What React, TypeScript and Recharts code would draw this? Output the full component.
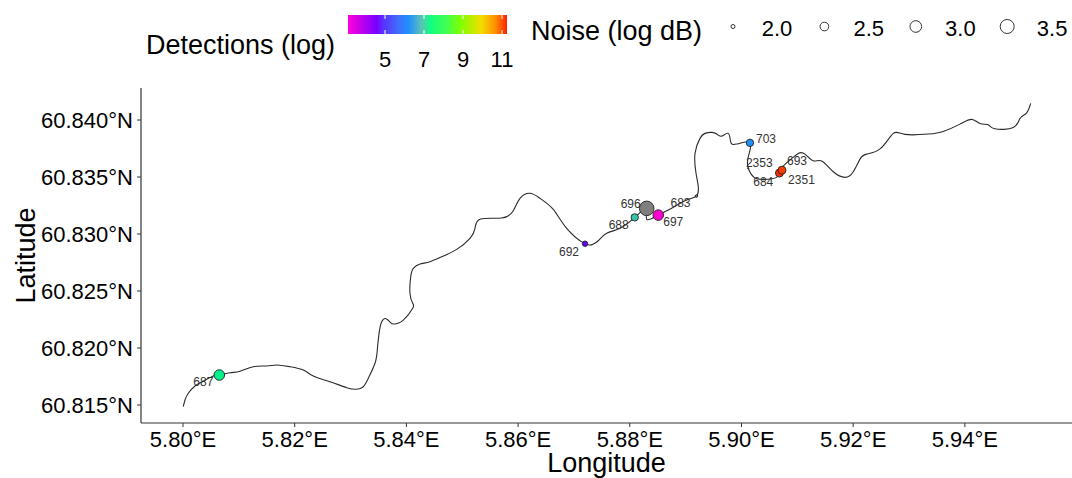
import { ScatterChart, Scatter, XAxis, YAxis, LabelList } from 'recharts'

const FONT = '"Liberation Sans", Arial, sans-serif'

// river course
const riverLon = [
  5.80005, 5.80036, 5.80095, 5.80215, 5.80363, 5.80543, 5.8065, 5.80842, 5.81021, 5.81259, 5.81499, 5.81678,
  5.81916, 5.82154, 5.82333, 5.82632, 5.82931, 5.8311, 5.83228, 5.83318, 5.83438, 5.83479, 5.83515, 5.83558,
  5.83626, 5.83706, 5.83778, 5.83945, 5.84113, 5.84113, 5.84064, 5.84077, 5.84124, 5.84243, 5.84423, 5.84661,
  5.84901, 5.85139, 5.85228, 5.8533, 5.85706, 5.85914, 5.86034, 5.86213, 5.86392, 5.8663, 5.8687, 5.87198,
  5.87347, 5.87436, 5.87586, 5.87825, 5.88088, 5.88303, 5.88303, 5.8851, 5.88689, 5.89019, 5.89194, 5.89227,
  5.89185, 5.89168, 5.89257, 5.89346, 5.89466, 5.89556, 5.89645, 5.89764, 5.89807, 5.89914, 5.90152, 5.90122,
  5.90122, 5.90224, 5.9039, 5.9063, 5.90689, 5.90868, 5.91017, 5.91137, 5.91286, 5.91436, 5.91644, 5.91853,
  5.92002, 5.92122, 5.92242, 5.92492, 5.92718, 5.92927, 5.93345, 5.93613, 5.93912, 5.94122, 5.9427, 5.94419,
  5.94539, 5.94867, 5.94987, 5.95106, 5.95178,
]
const riverLat = [
  60.81485, 60.81544, 60.81603, 60.81667, 60.8171, 60.81754, 60.81763, 60.81783, 60.81796, 60.81836, 60.81842, 60.81851,
  60.81836, 60.81807, 60.81754, 60.81704, 60.81652, 60.81638, 60.8166, 60.81734, 60.81866, 60.81982, 60.82143, 60.82231,
  60.82259, 60.82228, 60.8221, 60.82245, 60.82348, 60.82392, 60.8248, 60.82625, 60.82699, 60.82737, 60.82757, 60.82807,
  60.82865, 60.82962, 60.8305, 60.83131, 60.8314, 60.83204, 60.83313, 60.83357, 60.83313, 60.83216, 60.8305, 60.82915,
  60.82912, 60.82941, 60.83006, 60.8305, 60.83146, 60.83225, 60.83129, 60.83166, 60.8321, 60.83298, 60.83333, 60.83412,
  60.83535, 60.83707, 60.83839, 60.83883, 60.83892, 60.83877, 60.83859, 60.83883, 60.83809, 60.83789, 60.838, 60.83678,
  60.83576, 60.83497, 60.83479, 60.83497, 60.83561, 60.83649, 60.83707, 60.83701, 60.83642, 60.8364, 60.83546, 60.83497,
  60.83546, 60.83657, 60.83701, 60.83751, 60.83883, 60.83874, 60.83877, 60.839, 60.83964, 60.84006, 60.8397, 60.83958,
  60.83923, 60.83935, 60.84014, 60.84063, 60.84146,
]

// receiver stations
const stationIds = ['687', '692', '688', '696', '697', '683', '703', '2353', '684', '2351', '693']
const stationLon = [5.8065, 5.87198, 5.88088, 5.88303, 5.8851, 5.89194, 5.90152, 5.90122, 5.9039, 5.9068, 5.90725]
const stationLat = [60.81763, 60.82915, 60.83146, 60.83225, 60.83166, 60.83333, 60.838, 60.83576, 60.83479, 60.83535, 60.8356]
const stationNoise = [2.8, 2.11, 2.32, 3.64, 2.8, 1.92, 2.32, 1.88, 1.88, 2.4, 2.4]
const stationFill = ['#00f08c', '#6a00ff', '#35c4a8', '#7f7f7f', '#ff00d2', '#7f7f7f', '#1e90ff', '#7f7f7f', '#7f7f7f', '#ff2a00', '#ff3c00']

const lonTicks = [5.8, 5.82, 5.84, 5.86, 5.88, 5.9, 5.92, 5.94]
const latTicks = [60.815, 60.82, 60.825, 60.83, 60.835, 60.84]
const colorTicks = [5, 7, 9, 11]
const sizeTicks = [2.0, 2.5, 3.0, 3.5]

const rainbow = [
  ['0%', '#ff00dc'], ['18%', '#7a00ff'], ['22%', '#5a30ff'], ['32%', '#3f70ff'], ['38%', '#1e90ff'],
  ['46%', '#5cc0b8'], ['52%', '#10ff80'], ['62%', '#40ff50'], ['71%', '#80ff00'], ['84%', '#f5dc00'],
  ['93%', '#ff8c00'], ['100%', '#ff1e00'],
]

const labelNudge: Record<string, [number, number]> = {
  '687': [-16, 7], '692': [-16, 8], '688': [-16, 8], '696': [-16, -4], '697': [15, 7], '683': [-16, 7],
  '703': [16, -4], '2353': [11, -5], '684': [0, 3], '2351': [22, 7], '693': [15, -9],
}

const river = riverLon.map((lon, i) => ({ lon, lat: riverLat[i] }))
const stations = stationIds.map((id, i) => ({
  id,
  lon: stationLon[i],
  lat: stationLat[i],
  noise: stationNoise[i],
  fill: stationFill[i],
}))

// marker area grows with the noise value
const noiseRadius = (n: number) => Math.sqrt(Math.max(4 + (n - 2) * 30, 0.36))

function StationDot(props: any) {
  const { cx, cy, payload } = props
  return <circle cx={cx} cy={cy} r={noiseRadius(payload.noise)} fill={payload.fill} stroke="#222" strokeWidth={0.9} />
}

function StationLabel(props: any) {
  const { x, y, width, height, value } = props
  const [dx, dy] = labelNudge[value] || [0, 0]
  return (
    <text x={x + width / 2 + dx} y={y + height / 2 + dy} textAnchor="middle" dominantBaseline="central" fontSize={12} fontFamily={FONT} fill="#333">
      {value}
    </text>
  )
}

function Legends() {
  const scaleX = (v: number) => 385 + (v - 5) * 19.5
  return (
    <svg width={1072} height={80} style={{ position: 'absolute', left: 0, top: 0 }} fontFamily={FONT}>
      <defs>
        <linearGradient id="rainbow" x1="0" x2="1" y1="0" y2="0">
          {rainbow.map(([o, c]) => (
            <stop key={o} offset={o} stopColor={c} />
          ))}
        </linearGradient>
      </defs>
      <text x={146} y={54} fontSize={27} fill="#000">Detections (log)</text>
      <rect x={348} y={15} width={159} height={19} fill="url(#rainbow)" />
      {colorTicks.map((t) => (
        <g key={t}>
          <line x1={scaleX(t)} x2={scaleX(t)} y1={15} y2={19} stroke="#fff" />
          <line x1={scaleX(t)} x2={scaleX(t)} y1={30} y2={34} stroke="#fff" />
          <text x={scaleX(t)} y={67} fontSize={22} textAnchor="middle" fill="#000">{t}</text>
        </g>
      ))}
      <text x={531} y={40} fontSize={27} fill="#000">Noise (log dB)</text>
      {sizeTicks.map((t, i) => (
        <g key={t}>
          <circle cx={733 + i * 91.4} cy={26.5} r={noiseRadius(t)} fill="#fff" stroke="#333" />
          <text x={777 + i * 91.7} y={36} fontSize={22} textAnchor="middle" fill="#000">{t.toFixed(1)}</text>
        </g>
      ))}
    </svg>
  )
}

export default function App() {
  return (
    <div style={{ position: 'absolute', left: 0, top: 0, width: 1072, height: 478, background: '#fff' }}>
      <Legends />
      <div style={{ position: 'absolute', left: 0, top: 0 }}>
        <ScatterChart width={1072} height={478} margin={{ top: 88, right: 0, bottom: 0, left: 0 }}>
          <XAxis
            type="number"
            dataKey="lon"
            domain={[5.79248, 5.95918]}
            ticks={lonTicks}
            allowDataOverflow
            height={55}
            tickSize={4}
            tickMargin={4}
            tick={{ fontSize: 22, fontFamily: FONT, fill: '#000' }}
            axisLine={{ stroke: '#333', strokeWidth: 1.2 }}
            tickLine={{ stroke: '#333' }}
            tickFormatter={(v: number) => `${v.toFixed(2)}°E`}
            label={{ value: 'Longitude', position: 'insideBottom', offset: 6, fontSize: 27, fontFamily: FONT, fill: '#000' }}
          />
          <YAxis
            type="number"
            dataKey="lat"
            domain={[60.81342, 60.84281]}
            ticks={latTicks}
            allowDataOverflow
            width={141}
            tickSize={4}
            tickMargin={4}
            tick={{ fontSize: 22, fontFamily: FONT, fill: '#000' }}
            axisLine={{ stroke: '#333', strokeWidth: 1.2 }}
            tickLine={{ stroke: '#333' }}
            tickFormatter={(v: number) => `${v.toFixed(3)}°N`}
            label={{ value: 'Latitude', angle: -90, position: 'insideLeft', offset: 25, fontSize: 27, fontFamily: FONT, fill: '#000', style: { textAnchor: 'middle' } }}
          />
          <Scatter data={river} line={{ stroke: '#2b2b2b', strokeWidth: 1.1 }} lineJointType="natural" shape={() => <g />} isAnimationActive={false} />
          <Scatter data={stations} shape={StationDot} isAnimationActive={false}>
            <LabelList dataKey="id" content={StationLabel} />
          </Scatter>
        </ScatterChart>
      </div>
    </div>
  )
}
